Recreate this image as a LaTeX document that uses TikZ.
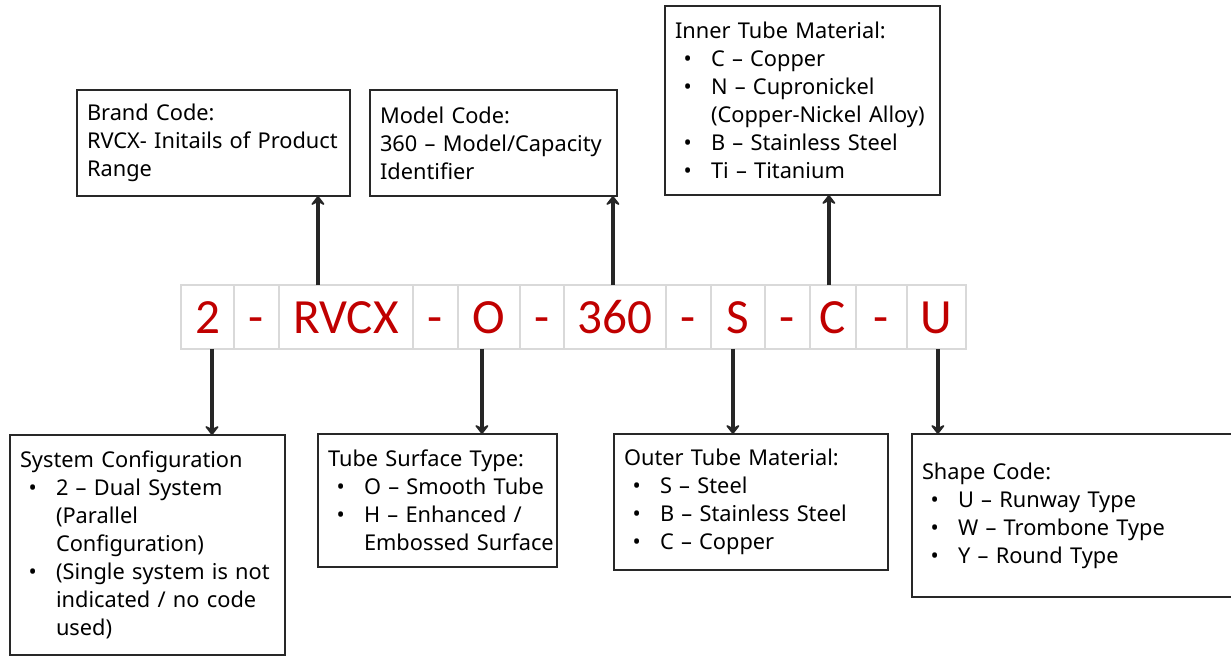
\documentclass[tikz,border=0pt]{standalone}
\usepackage{fontspec}
\setmainfont{Noto Sans}
\newfontfamily\codefont{Carlito}
\usetikzlibrary{positioning,arrows.meta}
\definecolor{codered}{RGB}{192,0,0}
\definecolor{cellgray}{RGB}{217,217,217}
\definecolor{boxgray}{RGB}{40,40,40}
\setlength{\parindent}{0pt}
\newcommand{\bul}{\par\hangindent=0.72cm\hangafter=1\makebox[0.72cm][l]{\hspace{0.17cm}\textbullet}}

\tikzset{
  cell/.style={draw=cellgray,line width=0.04cm,minimum height=1.28cm,inner sep=0pt,outer sep=0pt,
    text height=0.66cm,text depth=0pt,text=codered,font=\codefont\fontsize{28}{30}\selectfont},
  infobox/.style 2 args={draw=boxgray,line width=0.045cm,inner xsep=0.2cm,inner ysep=0pt,outer sep=0pt,
    align=left,text width=#1,minimum height=#2,font=\fontsize{12.4}{15.9}\selectfont},
  arr/.style={black!85,line width=0.075cm,-{Stealth[length=0.22cm,width=0.34cm,inset=0.09cm,round]}}
}

\begin{document}
\begin{tikzpicture}[x=0.02cm,y=-0.02cm]
\useasboundingbox (0,0) rectangle (1231,656);

% Code row
\coordinate (c0) at (181,317);
\foreach \nm/\txt/\w [remember=\nm as \prev (initially c0)] in
  {cfg/2/1.06, d1/-/0.9, brand/RVCX/2.68, d2/-/0.9, surf/O/1.24, d3/-/0.88, model/360/2.04,
   d4/-/0.9, outer/S/1.08, d5/-/0.9, inner/C/0.92, d6/-/1.02, shape/U/1.18}
  \node[cell,minimum width=\w cm,right=0pt of \prev] (\nm) {\txt};

% Upper boxes
\node[infobox={5.06cm}{2.12cm}] (brand-box) at (213.5,143)
  {Brand Code:\newline RVCX- Initails of Product\newline Range\par};
\node[infobox={4.54cm}{2.12cm}] (model-box) at (493.5,143)
  {Model Code:\newline 360 – Model/Capacity\newline Identifier\par};
\node[infobox={5.1cm}{3.78cm}] (inner-box) at (802.5,100.5)
  {Inner Tube Material:\bul C – Copper\bul N – Cupronickel\newline\mbox{(Copper-Nickel Alloy)}%
   \bul B – Stainless Steel\bul Ti – Titanium\par};

% Lower boxes
\node[infobox={5.1cm}{4.4cm}] (cfg-box) at (147.5,545)
  {System Configuration\bul 2 – Dual System\newline (Parallel\newline Configuration)%
   \bul (Single system is not\newline indicated / no code\newline used)\par};
\node[infobox={4.38cm}{2.66cm}] (surf-box) at (437.5,500.5)
  {Tube Surface Type:\bul O – Smooth Tube\bul H – Enhanced /\newline\mbox{Embossed Surface}\par};
\node[infobox={5.08cm}{2.72cm}] (outer-box) at (751,502)
  {Outer Tube Material:\bul S – Steel\bul B – Stainless Steel\bul C – Copper\par};
\node[infobox={6.16cm}{3.26cm}] (shape-box) at (1076,515.5)
  {Shape Code:\bul U – Runway Type\bul W – Trombone Type\bul Y – Round Type\par};

% Arrows up
\foreach \nm/\dx in {brand/-0.56, model/-0.04, inner/-0.08}
  \draw[arr] ([xshift=\dx cm]\nm.north) -- ([xshift=\dx cm]\nm.north |- \nm-box.south);

% Arrows down
\foreach \nm/\dx in {cfg/0.09, surf/-0.14, outer/-0.1, shape/0.03}
  \draw[arr] ([xshift=\dx cm]\nm.south) -- ([xshift=\dx cm]\nm.south |- \nm-box.north);
\end{tikzpicture}
\end{document}
